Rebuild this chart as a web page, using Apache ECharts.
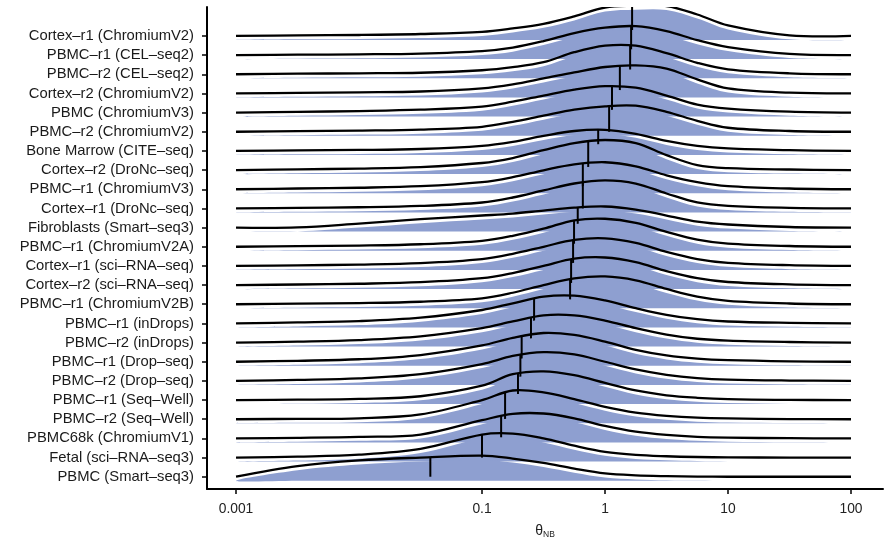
<!DOCTYPE html>
<html>
<head>
<meta charset="utf-8">
<script src="https://cdn.jsdelivr.net/npm/echarts@6/dist/echarts.min.js"></script>
<style>
html, body { margin: 0; padding: 0; background: #fff; }
#chart { width: 889px; height: 539px; }
</style>
</head>
<body>
<div id="chart"></div>
<script>
// Datasets, listed from the top ridge to the bottom ridge
const datasets = [
  'Cortex–r1 (ChromiumV2)', 'PBMC–r1 (CEL–seq2)', 'PBMC–r2 (CEL–seq2)', 'Cortex–r2 (ChromiumV2)',
  'PBMC (ChromiumV3)', 'PBMC–r2 (ChromiumV2)', 'Bone Marrow (CITE–seq)', 'Cortex–r2 (DroNc–seq)',
  'PBMC–r1 (ChromiumV3)', 'Cortex–r1 (DroNc–seq)', 'Fibroblasts (Smart–seq3)', 'PBMC–r1 (ChromiumV2A)',
  'Cortex–r1 (sci–RNA–seq)', 'Cortex–r2 (sci–RNA–seq)', 'PBMC–r1 (ChromiumV2B)', 'PBMC–r1 (inDrops)',
  'PBMC–r2 (inDrops)', 'PBMC–r1 (Drop–seq)', 'PBMC–r2 (Drop–seq)', 'PBMC–r1 (Seq–Well)',
  'PBMC–r2 (Seq–Well)', 'PBMC68k (ChromiumV1)', 'Fetal (sci–RNA–seq3)', 'PBMC (Smart–seq3)'
];

// Median θNB of each dataset
const medianTheta = [
  1.66, 1.63, 1.60, 1.32, 1.14, 1.08, 0.88, 0.73,
  0.66, 0.66, 0.60, 0.56, 0.55, 0.53, 0.52, 0.265,
  0.25, 0.21, 0.205, 0.196, 0.154, 0.143, 0.10, 0.038
];

// log10(θNB) positions where the ridge heights are sampled
const logThetaKnots = [-3, -2.5, -2, -1.5, -1, -0.75, -0.5, -0.25, 0, 0.25, 0.5, 0.75, 1, 1.5, 2];

// Density ridge heights at the knots, in row units (top ridge first)
const ridgeHeights = [
  [0, .03, .05, .10, .21, .39, .63, 1.02, 1.48, 1.58, 1.56, 1.12, .55, .03, 0],
  [0, .02, .04, .08, .21, .39, .73, 1.15, 1.43, 1.51, 1.25, .78, .42, .06, 0],
  [0, .03, .05, .08, .21, .37, .63, 1.15, 1.49, 1.49, 1.10, .60, .26, .05, 0],
  [0, .03, .06, .10, .26, .47, .78, 1.10, 1.38, 1.46, 1.30, .73, .26, .04, 0],
  [0, .04, .08, .15, .31, .57, .89, 1.20, 1.38, 1.30, .89, .42, .21, .05, 0],
  [0, .03, .06, .11, .26, .52, .84, 1.15, 1.33, 1.36, 1.04, .57, .21, .04, 0],
  [0, .03, .05, .10, .26, .47, .78, 1.04, 1.10, .89, .52, .26, .13, .04, 0],
  [0, .04, .08, .16, .37, .63, 1.04, 1.41, 1.57, 1.41, .78, .26, .10, .03, 0],
  [0, .04, .08, .16, .37, .63, .99, 1.30, 1.41, 1.20, .73, .37, .16, .04, 0],
  [0, .03, .06, .13, .31, .57, .94, 1.30, 1.46, 1.30, .78, .31, .13, .03, 0],
  [0, .01, .21, .44, .63, .73, .89, 1.04, 1.10, .94, .63, .31, .16, .03, 0],
  [0, .03, .06, .13, .31, .57, .94, 1.38, 1.46, 1.25, .78, .37, .16, .04, 0],
  [0, .03, .07, .15, .36, .63, 1.00, 1.36, 1.44, 1.20, .73, .36, .16, .04, 0],
  [0, .03, .07, .15, .36, .63, 1.00, 1.38, 1.44, 1.20, .73, .36, .16, .04, 0],
  [0, .03, .06, .13, .31, .60, 1.00, 1.35, 1.45, 1.25, .80, .40, .18, .04, 0],
  [0, .05, .12, .30, .70, 1.05, 1.40, 1.45, 1.20, .80, .45, .22, .10, .03, 0],
  [0, .05, .13, .32, .75, 1.10, 1.42, 1.42, 1.15, .75, .42, .20, .10, .03, 0],
  [0, .05, .13, .35, .85, 1.25, 1.50, 1.40, 1.05, .62, .33, .16, .08, .02, 0],
  [0, .05, .13, .35, .88, 1.30, 1.50, 1.38, 1.00, .60, .32, .15, .07, .02, 0],
  [0, .02, .06, .20, .75, 1.35, 1.50, 1.30, .90, .50, .25, .12, .05, .01, 0],
  [0, .02, .05, .25, 1.00, 1.50, 1.40, 1.05, .65, .35, .18, .08, .04, .01, 0],
  [0, .03, .08, .20, .95, 1.28, 1.30, 1.05, .65, .35, .18, .08, .04, .01, 0],
  [0, .05, .15, .45, 1.20, 1.25, 1.00, .62, .30, .14, .07, .03, .01, 0, 0],
  [0, .55, .85, 1.00, 1.10, .95, .72, .42, .17, .07, .03, .01, 0, 0, 0]
];

// x-axis tick values and their labels
const tickTheta = [0.001, 0.1, 1, 10, 100];
const tickLabels = ['0.001', '0.1', '1', '10', '100'];

const rowCount = datasets.length;
const rowValues = datasets.map((_, i) => rowCount - 1 - i);
const tickLogs = tickTheta.map(v => Math.log10(v));

const FILL = '#8e9fd0';
const FILL_SHIFT = 4;          // the fill layer sits a few pixels below the outline
const SMOOTH = 0.35;
const FONT = '"Liberation Sans", Arial, Helvetica, sans-serif';

// Control points of the open smoothed polyline, the same way zrender builds them
function controlPoints(pts, smooth) {
  const cps = [];
  const n = pts.length;
  for (let i = 0; i < n; i++) {
    if (i === 0 || i === n - 1) { cps.push(pts[i].slice()); continue; }
    const p = pts[i], a = pts[i - 1], b = pts[i + 1];
    const vx = (b[0] - a[0]) * smooth, vy = (b[1] - a[1]) * smooth;
    let d0 = Math.hypot(p[0] - a[0], p[1] - a[1]);
    let d1 = Math.hypot(p[0] - b[0], p[1] - b[1]);
    const s = d0 + d1;
    if (s !== 0) { d0 /= s; d1 /= s; }
    cps.push([p[0] - vx * d0, p[1] - vy * d0]);
    cps.push([p[0] + vx * d1, p[1] + vy * d1]);
  }
  return cps;
}

// Pixel y of the drawn outline at pixel x
function outlineYAt(pts, x) {
  const cps = controlPoints(pts, SMOOTH);
  for (let i = 0; i < pts.length - 1; i++) {
    const p0 = pts[i], p3 = pts[i + 1];
    if (x < p0[0] || x > p3[0]) continue;
    const c1 = cps[2 * i], c2 = cps[2 * i + 1];
    const bez = (t, k) => {
      const u = 1 - t;
      return u * u * u * p0[k] + 3 * u * u * t * c1[k] + 3 * u * t * t * c2[k] + t * t * t * p3[k];
    };
    let lo = 0, hi = 1;
    for (let it = 0; it < 40; it++) {
      const mid = (lo + hi) / 2;
      if (bez(mid, 0) < x) lo = mid; else hi = mid;
    }
    return bez((lo + hi) / 2, 1);
  }
  return null;
}

function renderRidge(params, api) {
  const i = params.dataIndex;
  const medLog = api.value(0);
  const row = api.value(1);
  const hs = ridgeHeights[i];
  const outline = logThetaKnots.map((k, j) => api.coord([k, row + hs[j]]));

  // closed outline for the filled area, returning along the baseline
  const back = [];
  for (let j = logThetaKnots.length - 2; j >= 1; j--) back.push(api.coord([logThetaKnots[j], row]));
  const fillPts = outline.concat(back).map(p => [p[0], p[1] + FILL_SHIFT]);

  const base = api.coord([medLog, row]);
  const topY = outlineYAt(outline, base[0]);

  return {
    type: 'group',
    children: [
      {
        type: 'polygon',
        shape: { points: fillPts, smooth: SMOOTH },
        style: { fill: FILL, stroke: null }
      },
      {
        type: 'line',
        shape: { x1: base[0], y1: base[1], x2: base[0], y2: topY },
        style: { stroke: '#000', lineWidth: 2 }
      },
      {
        type: 'polyline',
        shape: { points: outline, smooth: SMOOTH },
        style: { stroke: '#000', lineWidth: 2.3, fill: null, lineJoin: 'round' }
      }
    ]
  };
}

const chart = echarts.init(document.getElementById('chart'), null, { renderer: 'canvas' });

chart.setOption({
  animation: false,
  backgroundColor: '#fff',
  grid: { left: 207, right: 6, top: 7, bottom: 50, outerBoundsMode: 'none', containLabel: false },
  xAxis: {
    type: 'value',
    min: -3.236,
    max: 2.26,
    splitLine: { show: false },
    axisLine: { show: true, onZero: false, lineStyle: { color: '#000', width: 2 } },
    axisTick: { show: true, customValues: tickLogs, length: 5, lineStyle: { color: '#000', width: 1.5 } },
    axisLabel: {
      customValues: tickLogs,
      margin: 13,
      fontFamily: FONT,
      fontSize: 13.8,
      color: '#222',
      formatter: v => {
        let best = 0;
        tickLogs.forEach((t, k) => { if (Math.abs(t - v) < Math.abs(tickLogs[best] - v)) best = k; });
        return tickLabels[best];
      }
    },
    name: '{a|θ}{b|NB}',
    nameLocation: 'middle',
    nameGap: 34,
    nameTextStyle: {
      fontFamily: FONT,
      color: '#222',
      rich: {
        a: { fontFamily: FONT, fontSize: 14, color: '#222', lineHeight: 16 },
        b: { fontFamily: FONT, fontSize: 8.5, color: '#222', verticalAlign: 'bottom', lineHeight: 10 }
      }
    }
  },
  yAxis: {
    type: 'value',
    min: -0.64,
    max: 24.51,
    splitLine: { show: false },
    axisLine: { show: true, onZero: false, lineStyle: { color: '#000', width: 2 } },
    axisTick: { show: true, customValues: rowValues, length: 5, lineStyle: { color: '#000', width: 1.5 } },
    axisLabel: {
      customValues: rowValues,
      margin: 13,
      fontFamily: FONT,
      fontSize: 14.8,
      color: '#1a1a1a',
      formatter: v => datasets[rowCount - 1 - Math.round(v)]
    }
  },
  series: [{
    type: 'custom',
    clip: true,
    renderItem: renderRidge,
    encode: { x: 0, y: 1 },
    data: medianTheta.map((m, i) => [Math.log10(m), rowValues[i]])
  }]
});
</script>
</body>
</html>
